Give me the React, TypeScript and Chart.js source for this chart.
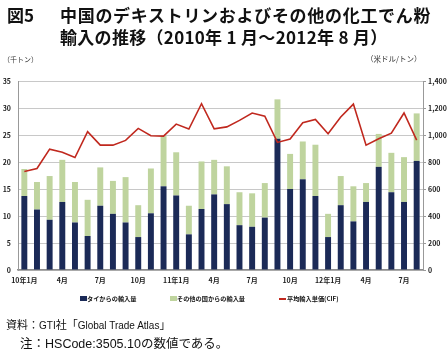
import React, { useEffect, useRef } from "react";
import { Chart, registerables } from "chart.js";

Chart.register(...registerables);

const months = [
  "10年1月", "", "", "4月", "", "", "7月", "", "", "10月", "", "",
  "11年1月", "", "", "4月", "", "", "7月", "", "", "10月", "", "",
  "12年1月", "", "", "4月", "", "", "7月", "",
];

const thaiImports = [
  13.7, 11.2, 9.3, 12.6, 8.8, 6.3, 11.9, 10.4, 8.8, 6.1, 10.5, 15.5,
  13.8, 6.6, 11.3, 14.0, 12.2, 8.3, 8.0, 9.7, 24.3, 15.0, 16.8, 13.7,
  6.1, 12.0, 9.0, 12.6, 19.1, 14.4, 12.6, 20.2,
];

const otherImports = [
  5.0, 5.1, 8.1, 7.8, 7.5, 6.7, 7.1, 6.1, 8.4, 5.9, 8.3, 9.3,
  8.0, 5.3, 8.8, 6.4, 7.0, 6.1, 6.2, 6.4, 7.3, 6.5, 7.0, 9.5,
  4.3, 5.4, 6.5, 3.5, 6.1, 7.3, 8.3, 8.8,
];

const avgPrice = [
  729, 752, 895, 873, 833, 1024, 925, 925, 960, 1049, 994, 992,
  1081, 1044, 1232, 1046, 1060, 1108, 1163, 1140, 945, 970, 1091, 1115,
  1009, 1133, 1229, 925, 972, 1014, 1163, 962,
];

const legendNames = ["タイからの輸入量", "その他の国からの輸入量", "平均輸入単価(CIF)"];

const NAVY = "#1b2a57";
const GREEN = "#bfd49e";
const RED = "#c0281e";
const CJK = '"Noto Sans CJK JP", "Noto Sans", sans-serif';
const LATIN = '"Liberation Sans", Arial, sans-serif';

export default function App() {
  const ref = useRef<HTMLCanvasElement>(null);

  useEffect(() => {
    if (!ref.current) return;
    const tickFont = { family: CJK, size: 7, weight: "bold" as const };
    const chart = new Chart(ref.current, {
      type: "bar",
      data: {
        labels: months,
        datasets: [
          {
            type: "line",
            label: legendNames[2],
            data: avgPrice,
            yAxisID: "y1",
            borderColor: RED,
            borderWidth: 1.6,
            pointRadius: 0,
            tension: 0,
            order: 0,
          } as any,
          {
            type: "bar",
            label: legendNames[0],
            data: thaiImports,
            yAxisID: "y",
            stack: "s",
            backgroundColor: NAVY,
            barPercentage: 0.47,
            categoryPercentage: 1,
            order: 1,
          },
          {
            type: "bar",
            label: legendNames[1],
            data: otherImports,
            yAxisID: "y",
            stack: "s",
            backgroundColor: GREEN,
            barPercentage: 0.47,
            categoryPercentage: 1,
            order: 1,
          },
        ],
      },
      options: {
        responsive: false,
        animation: false,
        devicePixelRatio: 1,
        layout: { padding: { top: 81, bottom: 67, left: 0, right: 0 } },
        plugins: { legend: { display: false }, tooltip: { enabled: false } },
        scales: {
          x: {
            stacked: true,
            grid: { display: false, drawTicks: false },
            border: { display: true, color: "#8c8c8c", width: 1.5 },
            ticks: {
              autoSkip: false,
              maxRotation: 0,
              minRotation: 0,
              padding: 6,
              color: "#222",
              font: tickFont,
            },
            afterFit: (s: any) => {
              s.height = 20;
            },
          },
          y: {
            position: "left",
            stacked: true,
            min: 0,
            max: 35,
            ticks: { stepSize: 5, padding: 7, color: "#222", font: tickFont },
            grid: { color: "#c8c8c8", lineWidth: 1, drawTicks: false },
            border: { display: true, color: "#999", width: 1 },
            afterFit: (s: any) => {
              s.width = 18;
            },
          },
          y1: {
            position: "right",
            min: 0,
            max: 1400,
            ticks: {
              stepSize: 200,
              padding: 2,
              color: "#222",
              font: tickFont,
              callback: (v: any) => Number(v).toLocaleString("en-US"),
            },
            grid: { drawOnChartArea: false, drawTicks: true, tickLength: 3, color: "#999" },
            border: { display: true, color: "#999", width: 1 },
            afterFit: (s: any) => {
              s.width = 24;
            },
          },
        },
      },
    });
    return () => chart.destroy();
  }, []);

  const abs = (style: React.CSSProperties): React.CSSProperties => ({
    position: "absolute",
    whiteSpace: "nowrap",
    ...style,
  });

  return (
    <div
      style={{
        position: "absolute",
        left: 0,
        top: 0,
        width: 447,
        height: 357,
        overflow: "hidden",
        background: "#fff",
        fontFamily: CJK,
        color: "#111",
      }}
    >
      <canvas ref={ref} width={447} height={357} style={{ position: "absolute", left: 0, top: 0 }} />
      <div style={abs({ left: 7, top: 6, fontSize: 17, fontWeight: 700, lineHeight: "17px" })}>図5</div>
      <div style={abs({ left: 60, top: 6, fontSize: 17, fontWeight: 700, lineHeight: "17px", letterSpacing: 0.7 })}>
        中国のデキストリンおよびその他の化工でん粉
      </div>
      <div style={abs({ left: 60, top: 28, fontSize: 17, fontWeight: 700, lineHeight: "17px", letterSpacing: 0.3 })}>
        輸入の推移（2010年 1 月～2012年 8 月）
      </div>
      <div style={abs({ left: 3, top: 55, fontSize: 7, lineHeight: "8px", color: "#333" })}>（千トン）</div>
      <div style={abs({ left: 366, top: 55, fontSize: 7.5, lineHeight: "8px", color: "#333" })}>（米ドル/トン）</div>

      <div style={abs({ left: 80, top: 296, width: 7, height: 5, background: NAVY })} />
      <div style={abs({ left: 87, top: 294, fontSize: 6.2, fontWeight: 700, lineHeight: "9px" })}>{legendNames[0]}</div>
      <div style={abs({ left: 170, top: 296, width: 7, height: 5, background: GREEN })} />
      <div style={abs({ left: 177, top: 294, fontSize: 6.2, fontWeight: 700, lineHeight: "9px" })}>{legendNames[1]}</div>
      <div style={abs({ left: 279, top: 298, width: 7, height: 1.6, background: RED })} />
      <div style={abs({ left: 287, top: 294, fontSize: 6.2, fontWeight: 700, lineHeight: "9px" })}>{legendNames[2]}</div>

      <div style={abs({ left: 6, top: 317, fontSize: 11, lineHeight: "14px" })}>
        資料：<span style={{ fontFamily: LATIN, fontSize: 10 }}>GTI</span>社「
        <span style={{ fontFamily: LATIN, fontSize: 10 }}>Global Trade Atlas</span>」
      </div>
      <div style={abs({ left: 20, top: 336, fontSize: 12.5, lineHeight: "14px" })}>
        注：<span style={{ fontFamily: LATIN, fontSize: 12.5 }}>HSCode:3505.10</span>の数値である。
      </div>
    </div>
  );
}
